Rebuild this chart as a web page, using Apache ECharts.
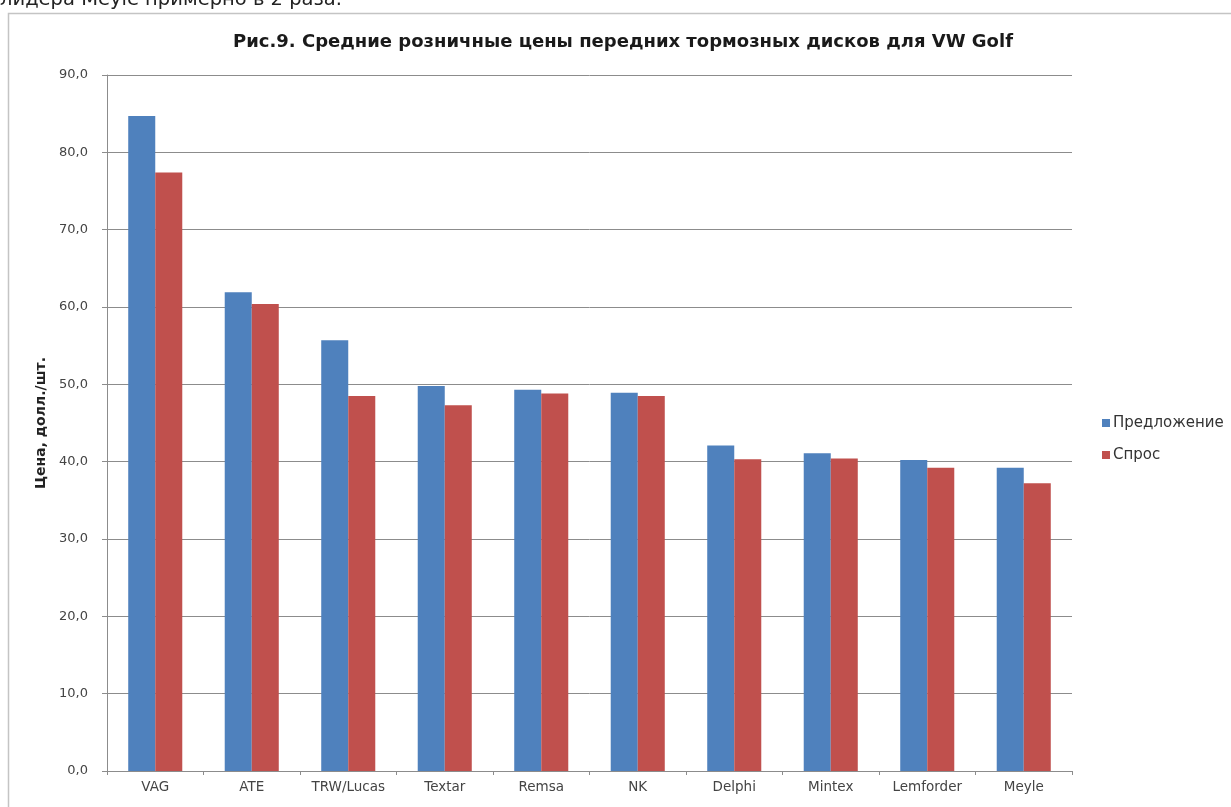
<!DOCTYPE html>
<html><head><meta charset="utf-8">
<script src="https://cdn.jsdelivr.net/npm/echarts@6/dist/echarts.min.js"></script>
<style>html,body{margin:0;padding:0;background:#fff;}#c{width:1231px;height:807px;}</style>
</head><body><div id="c"></div>
<script>
const categories = ['VAG','ATE','TRW/Lucas','Textar','Remsa','NK','Delphi','Mintex','Lemforder','Meyle'];
const supply = [84.7, 61.9, 55.7, 49.8, 49.3, 48.9, 42.1, 41.1, 40.2, 39.2];
const demand = [77.4, 60.4, 48.5, 47.3, 48.8, 48.5, 40.3, 40.4, 39.2, 37.2];
const seriesNames = ['Предложение','Спрос'];
const titleText = 'Рис.9. Средние розничные цены передних тормозных дисков для VW Golf';
const axisName = 'Цена, долл./шт.';
const aboveText = 'лидера Meyle примерно в 2 раза.';

const chart = echarts.init(document.getElementById('c'));
chart.setOption({
  animation:false,
  backgroundColor:'#fff',
  title:{text:titleText,left:618,top:28,textAlign:'center',
    textStyle:{fontFamily:'DejaVu Sans',fontSize:18,fontWeight:'bold',color:'#1a1a1a'}},
  graphic:[
    {type:'rect',shape:{x:8.5,y:13.5,width:1240,height:820},style:{fill:'none',stroke:'#c4c4c4',lineWidth:1.5},z:-1},
    {type:'text',left:0,top:-10,style:{text:aboveText,font:'19.5px "DejaVu Sans"',fill:'#222'}}
  ],
  legend:{orient:'vertical',left:1097,top:410,itemWidth:8,itemHeight:8,itemGap:16,itemStyle:{borderWidth:0},
    icon:'rect',textStyle:{fontFamily:'DejaVu Sans',fontSize:15,lineHeight:16,color:'#333',padding:[0,0,0,-2]},
    data:seriesNames},
  grid:{left:107,right:159,top:75,bottom:36,containLabel:false},
  xAxis:{type:'category',data:categories,
    axisLine:{lineStyle:{color:'#8c8c8c'}},axisTick:{show:true,lineStyle:{color:'#8c8c8c'},length:4},
    axisLabel:{fontFamily:'DejaVu Sans',fontSize:13.5,color:'#444',margin:9}},
  yAxis:{type:'value',min:0,max:90,interval:10,name:axisName,nameLocation:'middle',nameGap:54,
    nameTextStyle:{fontFamily:'DejaVu Sans',fontSize:14,fontWeight:'bold',color:'#222'},
    axisLine:{show:true,lineStyle:{color:'#8c8c8c'}},
    axisTick:{show:true,inside:false,length:5,lineStyle:{color:'#8c8c8c'}},
    splitLine:{lineStyle:{color:'#8c8c8c',width:1}},
    axisLabel:{fontFamily:'DejaVu Sans',fontSize:13,color:'#444',margin:19,
      formatter:v=>v.toFixed(1).replace('.',',')}},
  series:[
    {name:seriesNames[0],type:'bar',data:supply,barGap:'0%',barCategoryGap:'44%',itemStyle:{color:'#4F81BD'}},
    {name:seriesNames[1],type:'bar',data:demand,itemStyle:{color:'#C0504D'}}
  ]
});
</script></body></html>
